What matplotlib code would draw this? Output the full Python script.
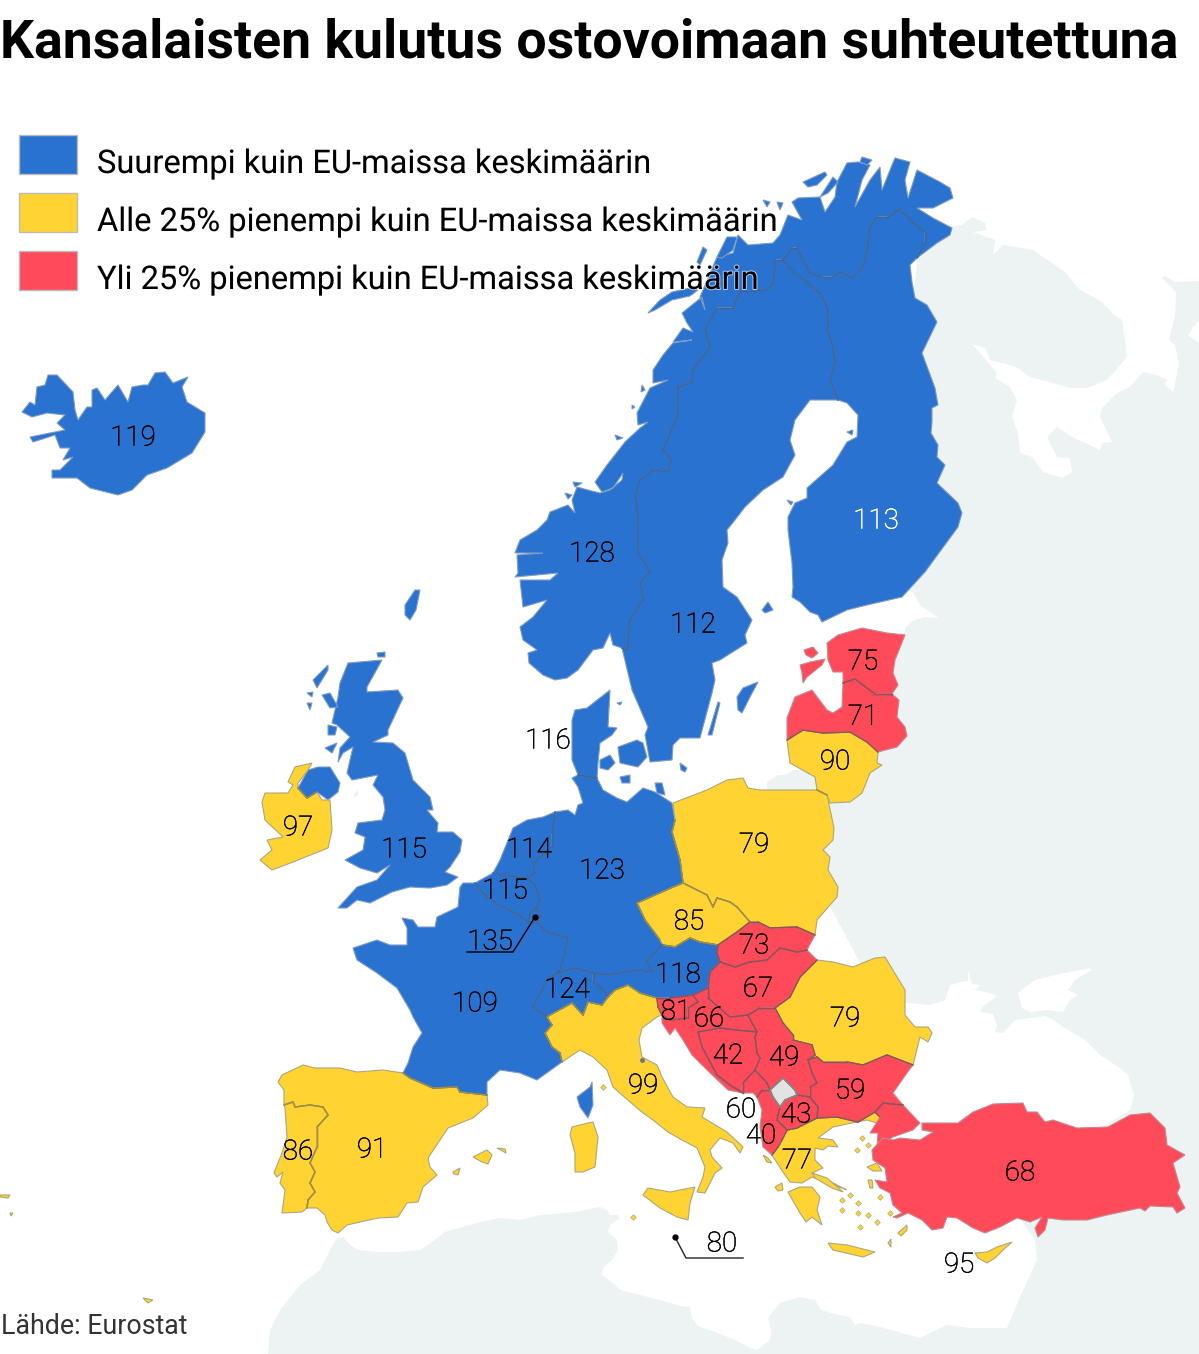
import matplotlib
matplotlib.use('Agg')
import matplotlib.pyplot as plt
import matplotlib.patheffects as pe
from collections import Counter

plt.rcParams['font.family'] = ['Roboto', 'DejaVu Sans']

BLUE = '#2a72cf'
YELLOW = '#ffd332'
RED = '#ff4a5a'
GREY = '#e2e3e4'
LAND = '#edf2f3'
COAST = {BLUE: '#7f9cc4', YELLOW: '#aea67c', RED: '#c48a92', GREY: '#aaaaaa'}
BORDER = {BLUE: '#3f6699', YELLOW: '#a08f45', RED: '#93505b', GREY: '#888888'}

TITLE = 'Kansalaisten kulutus ostovoimaan suhteutettuna'
SOURCE = 'Lähde: Eurostat'
legend_labels = ['Suurempi kuin EU-maissa keskimäärin',
                 'Alle 25% pienempi kuin EU-maissa keskimäärin',
                 'Yli 25% pienempi kuin EU-maissa keskimäärin']
legend_colors = [BLUE, YELLOW, RED]

# value labels
label_values = [119, 128, 113, 112, 116, 75, 71, 90, 79, 97, 115, 114, 123, 115, 85, 73, 135,
                118, 124, 67, 81, 66, 79, 109, 42, 49, 59, 99, 60, 43, 40, 77, 68, 91, 86, 80, 95]
label_x = [133, 592, 876, 693, 548, 863, 863, 835, 754, 298, 404, 529, 602, 505, 689, 754, 490,
           678, 567, 758, 676, 709, 845, 475, 728, 784, 850, 643, 741, 796, 761, 797, 1020, 372, 298, 722, 959]
label_y = [436, 552, 519, 623, 739, 660, 715, 760, 843, 826, 848, 848, 869, 889, 920, 944, 940,
           973, 988, 987, 1010, 1017, 1017, 1002, 1054, 1056, 1089, 1084, 1108, 1113, 1134, 1159, 1171, 1148, 1150, 1242, 1263]
label_colors = ['white' if v == 113 else 'black' for v in label_values]

nor_swe = [(622, 648), (627, 650), (630, 620), (643, 600), (640, 582), (650, 572), (638, 553), (637, 507),
           (635, 497), (640, 480), (653, 470), (668, 472), (671, 460), (663, 450), (677, 417), (678, 387),
           (692, 382), (693, 370), (710, 347), (705, 330), (717, 308), (733, 308), (740, 292), (767, 290),
           (773, 283), (775, 260), (783, 260)]
swe_fin = [(783, 260), (793, 272), (807, 282), (820, 293), (828, 310), (827, 330), (832, 343), (835, 362),
           (830, 380), (838, 400)]
nor_fin = [(783, 260), (792, 248), (797, 248), (810, 273), (822, 277), (833, 277), (840, 272), (852, 278), (863, 267),
           (867, 250), (870, 227), (877, 217), (888, 217), (900, 209), (913, 223), (925, 232), (925, 243), (917, 258)]
norway = nor_swe + nor_fin[1:] + [(937, 243), (950, 235), (952, 228), (933, 218), (917, 208), (933, 208), (953, 198),
                    (950, 188), (940, 182), (917, 170), (908, 198), (905, 180), (910, 162), (895, 158), (890, 170),
                    (882, 190), (880, 167), (870, 180), (855, 207), (862, 180), (870, 165), (858, 162), (847, 163),
                    (837, 182), (835, 197), (825, 212), (820, 197), (798, 198), (792, 202), (802, 220), (788, 215),
                    (780, 235), (773, 243), (748, 245), (738, 235), (733, 253), (717, 257), (700, 297), (705, 310),
                    (702, 297), (682, 313), (687, 323), (693, 332), (683, 328), (673, 342), (692, 340), (673, 343),
                    (663, 355), (653, 370), (653, 383), (668, 380), (650, 388), (637, 413), (638, 425), (648, 422),
                    (640, 428), (625, 442), (607, 465), (595, 482), (602, 492), (613, 488), (623, 473), (622, 480),
                    (610, 490), (600, 493), (588, 490), (577, 487), (572, 500), (575, 513), (568, 505), (550, 512),
                    (547, 520), (537, 530), (520, 540), (515, 553), (543, 553), (517, 555), (518, 573), (515, 577),
                    (558, 573), (550, 580), (520, 580), (523, 607), (547, 600), (533, 617), (520, 627), (523, 640),
                    (537, 650), (528, 653), (529, 663), (543, 675), (555, 680), (567, 678), (578, 670), (593, 650),
                    (603, 648), (610, 633), (613, 645)]
sweden = nor_swe + swe_fin[1:] + [(810, 400), (795, 420), (790, 440), (795, 455), (783, 477), (763, 490), (745, 507),
                                  (735, 520), (727, 530), (728, 543), (722, 560), (723, 587), (737, 597), (752, 620),
                                  (745, 635), (747, 643), (720, 660), (712, 663), (715, 680), (712, 693), (700, 738),
                                  (680, 738), (673, 745), (672, 760), (650, 762), (645, 735), (648, 727), (632, 690)]
finland = swe_fin[::-1] + nor_fin[1:] + [(910, 265), (912, 282), (915, 298), (927, 305),
                           (937, 322), (922, 353), (935, 388), (938, 405), (932, 408), (932, 422), (931, 433),
                           (938, 445), (937, 457), (945, 465), (937, 483), (958, 503), (962, 513), (958, 527),
                           (925, 572), (902, 597), (867, 605), (847, 610), (822, 622), (818, 615), (810, 612),
                           (800, 602), (792, 597), (793, 587), (792, 563), (788, 530), (788, 517), (795, 503),
                           (807, 498), (807, 488), (833, 465), (847, 442), (857, 437), (858, 415), (847, 403)]
norway_isles = [[(648, 313), (660, 300), (672, 292), (690, 288), (698, 290), (690, 296), (672, 300), (655, 310)],
                [(717, 257), (727, 237), (737, 237), (733, 250), (722, 258)],
                [(697, 262), (703, 247), (707, 250), (700, 265)],
                [(803, 182), (825, 172), (827, 175), (817, 185), (808, 187)],
                [(820, 197), (833, 177), (838, 182), (828, 193)],
                [(862, 157), (872, 160), (867, 165), (860, 162)],
                [(763, 200), (770, 202), (767, 207)],
                [(777, 202), (783, 203), (780, 210)],
                [(642, 385), (645, 390), (641, 392)],
                [(632, 405), (635, 407), (632, 409)],
                [(615, 435), (623, 438), (617, 440)],
                [(573, 482), (582, 483), (575, 487)],
                [(565, 493), (572, 495), (568, 499)]]
gotland = [(737, 697), (743, 688), (758, 682), (750, 697), (742, 713), (738, 710)]
oland = [(708, 735), (718, 702), (720, 703), (712, 735)]
aland = [(762, 610), (768, 602), (773, 610), (765, 613)]
kvarken = [(847, 432), (853, 430), (852, 435)]
bothnia_isle = [(787, 500), (793, 502), (791, 505)]

iceland = [(22, 412), (30, 402), (35, 405), (37, 387), (45, 385), (48, 375), (57, 375), (73, 392), (75, 410), (78, 420),
           (87, 407), (92, 407), (92, 390), (97, 388), (105, 400), (118, 385), (128, 402), (132, 387), (143, 385),
           (148, 385), (155, 373), (165, 372), (173, 383), (188, 377), (182, 387), (187, 402), (205, 413), (205, 432),
           (192, 453), (167, 468), (147, 475), (132, 490), (118, 495), (90, 488), (77, 478), (52, 478), (52, 470),
           (60, 470), (73, 457), (63, 460), (70, 448), (60, 448), (55, 435), (33, 442), (30, 437), (65, 430), (57, 423),
           (65, 415), (47, 413), (32, 417)]

britain = [(348, 663), (382, 660), (367, 687), (367, 692), (398, 690), (403, 698), (388, 730), (388, 735), (373, 742),
           (393, 743), (405, 753), (413, 780), (430, 797), (433, 810), (427, 810), (438, 823), (437, 832), (453, 832),
           (462, 840), (460, 852), (450, 867), (445, 872), (458, 877), (447, 885), (430, 888), (410, 887), (392, 892),
           (370, 903), (357, 900), (347, 908), (338, 908), (357, 887), (377, 880), (390, 865), (377, 873), (360, 868),
           (345, 860), (363, 850), (365, 837), (355, 833), (358, 823), (382, 820), (385, 810), (383, 797), (373, 785),
           (378, 775), (352, 780), (347, 773), (353, 747), (343, 753), (338, 762), (340, 748), (350, 737), (337, 725),
           (332, 723), (338, 697), (340, 683)]
n_ireland = [(298, 788), (308, 770), (318, 767), (330, 767), (340, 783), (338, 792), (328, 800), (317, 792), (307, 798)]
ireland = [(312, 763), (308, 770), (298, 783), (298, 788), (307, 798), (317, 792), (322, 800), (330, 800), (332, 830),
           (328, 848), (293, 862), (272, 870), (260, 860), (272, 850), (267, 840), (283, 837), (265, 820), (262, 802),
           (265, 793), (288, 793), (293, 785), (288, 782), (295, 767)]
uk_isles = [[(313, 680), (328, 665), (328, 670), (317, 688)],
            [(322, 695), (330, 693), (338, 707), (330, 708)],
            [(307, 693), (313, 692), (312, 697)],
            [(307, 703), (312, 703), (310, 710)],
            [(328, 725), (337, 727), (335, 735), (328, 735)],
            [(325, 748), (337, 743), (332, 753)],
            [(377, 653), (385, 652), (385, 657), (378, 657)],
            [(405, 605), (415, 590), (420, 590), (416, 610), (410, 620), (405, 615)]]

france = [(463, 883), (475, 883), (483, 893), (495, 903), (513, 912), (528, 922), (537, 923), (547, 932), (568, 938),
          (560, 970), (558, 973), (548, 978), (533, 1007), (547, 1017), (552, 1025), (545, 1033), (552, 1047),
          (560, 1053), (562, 1062), (537, 1080), (520, 1073), (500, 1070), (487, 1082), (487, 1095), (460, 1092),
          (457, 1087), (433, 1088), (410, 1078), (403, 1073), (408, 1063), (413, 1047), (422, 1033), (413, 1017),
          (410, 1010), (397, 988), (377, 973), (357, 960), (353, 948), (377, 940), (390, 945), (407, 945), (407, 928),
          (402, 918), (413, 920), (418, 927), (435, 927), (437, 917), (458, 907), (460, 887)]
corsica = [(592, 1082), (593, 1105), (588, 1118), (580, 1107), (577, 1097), (590, 1087)]
spain = [(403, 1073), (410, 1078), (433, 1088), (457, 1087), (460, 1092), (487, 1095), (488, 1105), (473, 1118),
         (448, 1128), (428, 1158), (430, 1167), (437, 1175), (423, 1187), (418, 1202), (407, 1203), (398, 1217),
         (378, 1218), (360, 1222), (347, 1225), (338, 1233), (332, 1230), (327, 1222), (325, 1215), (317, 1208),
         (307, 1208), (308, 1200), (315, 1192), (310, 1183), (315, 1172), (310, 1163), (317, 1147), (317, 1127),
         (328, 1115), (323, 1107), (310, 1105), (295, 1107), (293, 1102), (284, 1105), (284, 1090), (278, 1082),
         (282, 1075), (303, 1065), (315, 1068), (340, 1068), (357, 1072), (383, 1070)]
portugal = [(293, 1102), (295, 1107), (310, 1105), (323, 1107), (328, 1115), (317, 1127), (317, 1147), (310, 1163),
            (315, 1172), (310, 1183), (315, 1192), (308, 1200), (307, 1208), (302, 1212), (282, 1213), (285, 1190),
            (280, 1183), (283, 1172), (277, 1177), (274, 1173), (282, 1153), (287, 1137), (285, 1108), (284, 1105)]
spain_isles = [[(473, 1157), (487, 1150), (492, 1155), (488, 1164), (482, 1162)],
               [(497, 1148), (505, 1149), (506, 1153)],
               [(453, 1172), (460, 1168), (458, 1175), (454, 1174)],
               [(0, 1195), (10, 1195), (8, 1198), (0, 1197)],
               [(10, 1213), (13, 1213), (11, 1216)],
               [(143, 1298), (153, 1300), (148, 1303)]]
sardinia = [(572, 1127), (588, 1123), (593, 1122), (598, 1137), (595, 1167), (583, 1172), (575, 1172), (575, 1153), (570, 1135)]
sicily = [(643, 1195), (648, 1188), (670, 1192), (695, 1187), (690, 1203), (688, 1220), (677, 1217), (660, 1208)]
italy = [(547, 1017), (552, 1025), (545, 1033), (552, 1047), (560, 1053), (562, 1062), (580, 1050), (593, 1057),
         (607, 1070), (613, 1087), (622, 1095), (643, 1113), (653, 1120), (668, 1132), (682, 1140), (697, 1148),
         (705, 1167), (703, 1177), (697, 1192), (705, 1193), (715, 1173), (722, 1168), (712, 1157), (710, 1150),
         (720, 1138), (733, 1143), (740, 1153), (743, 1147), (727, 1132), (702, 1117), (705, 1108), (687, 1107),
         (673, 1097), (662, 1077), (657, 1065), (642, 1057), (639, 1040), (642, 1028), (657, 1017), (662, 1015),
         (658, 1007), (657, 998), (640, 993), (628, 985), (615, 990), (608, 997), (602, 1005), (588, 1002),
         (583, 1015), (572, 1003), (550, 1015)]
austria = [(593, 973), (608, 975), (637, 970), (652, 972), (647, 960), (663, 945), (675, 947), (690, 938), (700, 942),
           (718, 945), (717, 953), (720, 962), (710, 972), (708, 988), (693, 995), (670, 998), (657, 998), (640, 993),
           (628, 985), (615, 990), (608, 997), (602, 988), (593, 982)]
switzerland = [(533, 1007), (548, 978), (558, 973), (575, 968), (593, 973), (593, 982), (602, 988), (608, 997),
               (602, 1005), (588, 1002), (583, 1015), (572, 1003), (550, 1015), (547, 1017)]
germany = [(578, 775), (597, 778), (603, 790), (617, 798), (627, 802), (643, 788), (655, 792), (672, 803), (675, 820),
           (672, 832), (680, 860), (683, 883), (673, 887), (637, 903), (645, 920), (660, 940), (665, 943), (663, 945),
           (647, 960), (652, 972), (637, 970), (608, 975), (593, 973), (575, 968), (558, 973), (560, 970), (568, 938),
           (547, 932), (537, 923), (540, 917), (537, 907), (540, 900), (535, 885), (527, 878), (535, 873), (533, 863), (552, 847), (552, 833),
           (555, 812), (568, 810), (575, 815), (578, 805), (583, 803), (578, 787), (572, 778)]
rugen = [(655, 783), (662, 783), (665, 795), (657, 793)]
netherlands = [(555, 812), (552, 833), (552, 847), (533, 863), (535, 873), (527, 878), (517, 877), (493, 873), (500, 860),
               (513, 828), (527, 820), (543, 817)]
belgium = [(475, 883), (493, 873), (517, 877), (527, 878), (535, 885), (540, 900), (537, 907), (530, 913), (528, 922),
           (513, 912), (495, 903), (483, 893)]
luxembourg = [(530, 913), (537, 907), (540, 917), (537, 923), (528, 922)]
denmark = [(572, 720), (575, 710), (587, 708), (610, 690), (608, 727), (617, 728), (612, 735), (600, 743), (598, 763),
           (597, 778), (578, 775), (572, 760), (572, 737)]
denmark_isles = [[(618, 747), (637, 740), (643, 743), (647, 757), (638, 767), (620, 763)],
                 [(600, 760), (610, 755), (615, 763), (608, 770), (600, 768)],
                 [(620, 777), (630, 775), (630, 783), (622, 783)],
                 [(680, 763), (687, 768), (685, 772), (681, 770)],
                 [(617, 703), (622, 702), (620, 705)]]
estonia = [(827, 643), (838, 635), (862, 628), (887, 633), (905, 635), (895, 660), (893, 673), (898, 685), (892, 694),
           (875, 694), (855, 679), (843, 683), (843, 672), (833, 672), (828, 660)]
estonia_isles = [[(800, 665), (810, 662), (825, 659), (822, 665), (807, 677), (803, 683), (802, 673)],
                 [(804, 650), (813, 647), (818, 653), (812, 658), (806, 655)]]
latvia = [(787, 740), (787, 718), (795, 697), (812, 690), (827, 710), (833, 713), (842, 707), (843, 683), (855, 679),
          (875, 694), (892, 694), (899, 700), (897, 717), (905, 727), (907, 736), (897, 747), (878, 752), (867, 742),
          (850, 732), (823, 733), (803, 730)]
lithuania = [(787, 740), (803, 730), (823, 733), (850, 732), (867, 742), (878, 752), (877, 763), (882, 765), (870, 773),
             (862, 793), (850, 802), (830, 803), (827, 795), (817, 790), (815, 777), (790, 763)]
poland = [(673, 803), (707, 790), (727, 780), (743, 778), (748, 788), (760, 790), (817, 790), (827, 795), (834, 828),
          (833, 840), (823, 850), (830, 857), (828, 870), (838, 887), (837, 897), (817, 920), (815, 935), (797, 927),
          (770, 928), (758, 922), (750, 922), (737, 907), (730, 902), (717, 898), (713, 907), (707, 895), (683, 883),
          (680, 860), (672, 832), (675, 820)]
czechia = [(637, 903), (673, 887), (683, 883), (707, 895), (713, 907), (717, 898), (730, 902), (737, 907), (750, 922),
           (737, 932), (718, 945), (700, 942), (690, 938), (675, 947), (663, 945), (660, 940), (645, 920)]
slovakia = [(718, 945), (737, 932), (750, 922), (758, 922), (770, 928), (797, 927), (815, 935), (807, 950), (797, 952),
            (780, 948), (767, 960), (750, 962), (735, 967), (720, 962), (717, 953)]
hungary = [(720, 962), (735, 967), (750, 962), (767, 960), (780, 948), (797, 952), (807, 950), (817, 960), (800, 977),
           (790, 997), (775, 1008), (760, 1008), (748, 1015), (730, 1017), (708, 998), (708, 988), (710, 972)]
slovenia = [(657, 998), (670, 998), (693, 995), (698, 1002), (688, 1008), (688, 1018), (670, 1020), (662, 1015), (658, 1007)]
croatia = [(693, 995), (708, 988), (708, 998), (730, 1017), (748, 1015), (752, 1023), (757, 1032), (737, 1030), (720, 1028),
           (698, 1032), (702, 1047), (717, 1075), (730, 1085), (743, 1093), (728, 1090), (707, 1070), (692, 1055),
           (683, 1040), (675, 1028), (670, 1035), (662, 1023), (662, 1015), (670, 1020), (688, 1018), (688, 1008), (698, 1002)]
bosnia = [(698, 1032), (720, 1028), (737, 1030), (757, 1032), (755, 1037), (757, 1053), (760, 1058), (755, 1070),
          (743, 1083), (743, 1093), (730, 1085), (717, 1075), (702, 1047)]
serbia = [(748, 1015), (760, 1008), (775, 1008), (783, 1023), (793, 1035), (793, 1040), (812, 1045), (815, 1055),
          (808, 1060), (812, 1073), (817, 1083), (810, 1087), (810, 1097), (797, 1095), (795, 1090), (783, 1078),
          (770, 1090), (767, 1083), (755, 1070), (760, 1058), (757, 1053), (755, 1037), (757, 1032), (752, 1023)]
kosovo = [(770, 1090), (783, 1078), (795, 1090), (797, 1095), (785, 1100), (780, 1107), (773, 1097)]
montenegro = [(755, 1070), (767, 1083), (770, 1090), (762, 1090), (757, 1097), (753, 1093), (743, 1093), (743, 1083)]
albania = [(757, 1097), (762, 1090), (770, 1090), (773, 1097), (780, 1107), (777, 1120), (787, 1130), (782, 1140),
           (778, 1147), (772, 1155), (763, 1147), (760, 1127), (762, 1110)]
macedonia = [(780, 1107), (785, 1100), (797, 1095), (810, 1097), (818, 1107), (817, 1118), (797, 1128), (787, 1130), (777, 1120)]
bulgaria = [(808, 1060), (817, 1057), (823, 1062), (847, 1062), (863, 1065), (887, 1055), (913, 1065), (907, 1073),
            (893, 1093), (903, 1105), (883, 1103), (875, 1112), (858, 1122), (837, 1117), (817, 1118), (818, 1107),
            (810, 1097), (810, 1087), (817, 1083), (812, 1073)]
romania = [(775, 1008), (790, 997), (800, 977), (817, 960), (833, 962), (853, 967), (875, 958), (885, 957), (905, 990),
           (905, 1015), (915, 1027), (928, 1027), (932, 1033), (928, 1042), (920, 1037), (918, 1045), (913, 1065),
           (887, 1055), (863, 1065), (847, 1062), (823, 1062), (817, 1057), (808, 1060), (815, 1055), (812, 1045), (793, 1040),
           (793, 1035), (783, 1023)]
greece = [(772, 1155), (778, 1147), (782, 1140), (787, 1130), (797, 1128), (817, 1118), (837, 1117), (858, 1122),
          (875, 1112), (880, 1117), (877, 1123), (867, 1120), (847, 1124), (833, 1127), (818, 1138), (833, 1140),
          (838, 1147), (828, 1146), (823, 1150), (815, 1148), (815, 1160), (823, 1168), (812, 1173), (827, 1180), (847, 1190), (833, 1185),
          (812, 1177), (802, 1183), (790, 1182), (783, 1172)]
peloponnese = [(788, 1192), (800, 1187), (812, 1187), (820, 1197), (817, 1210), (822, 1225), (812, 1217), (806, 1222),
               (800, 1213)]
crete = [(828, 1243), (847, 1245), (875, 1252), (863, 1257), (833, 1250)]
greek_isles = [[(812, 1173), (827, 1178), (843, 1192), (832, 1188), (815, 1178)],
               [(867, 1167), (877, 1163), (882, 1171), (873, 1171)],
               [(868, 1180), (872, 1180), (873, 1188), (870, 1188)],
               [(898, 1233), (907, 1225), (907, 1230), (901, 1236)],
               [(888, 1243), (891, 1239), (891, 1247)],
               [(775, 1187), (782, 1183), (783, 1190), (778, 1191)],
               [(763, 1155), (768, 1158), (772, 1163), (767, 1162)]]
turkey_thrace = [(875, 1112), (883, 1103), (903, 1105), (920, 1123), (913, 1130), (893, 1137), (877, 1147), (878, 1133),
                 (870, 1133), (880, 1117)]
turkey = [(922, 1123), (950, 1123), (958, 1123), (973, 1112), (993, 1104), (1023, 1103), (1027, 1112), (1037, 1112),
          (1045, 1122), (1053, 1120), (1077, 1128), (1108, 1127), (1130, 1115), (1150, 1113), (1165, 1128), (1167, 1145),
          (1185, 1155), (1173, 1163), (1180, 1187), (1177, 1193), (1185, 1208), (1177, 1213), (1173, 1207), (1150, 1206),
          (1145, 1211), (1140, 1208), (1107, 1215), (1087, 1220), (1063, 1220), (1048, 1218), (1045, 1230), (1038, 1237),
          (1035, 1228), (1042, 1217), (1030, 1222), (1017, 1218), (1000, 1227), (985, 1233), (973, 1228), (957, 1218),
          (947, 1217), (943, 1228), (932, 1230), (922, 1220), (908, 1213), (897, 1218), (893, 1217), (902, 1213),
          (893, 1205), (890, 1193), (880, 1188), (875, 1180), (887, 1182), (885, 1168), (873, 1160), (872, 1150),
          (883, 1138), (893, 1140), (900, 1138), (920, 1140), (933, 1132), (922, 1130)]
cyprus = [(975, 1253), (987, 1252), (997, 1247), (1012, 1242), (1003, 1250), (995, 1258), (987, 1263), (978, 1258)]

islet_x = [842, 850, 858, 842, 858, 868, 860, 877, 890, 862, 868, 857, 633, 603, 880]
islet_y = [1200, 1195, 1203, 1210, 1213, 1215, 1227, 1222, 1213, 1138, 1145, 1150, 1217, 1087, 1197]

# land outside the data
east_land = [(952, 226), (962, 225), (972, 217), (985, 223), (987, 230), (973, 232), (995, 240), (993, 255), (1003, 245),
             (1022, 248), (1033, 250), (1065, 272), (1080, 290), (1102, 302), (1112, 313), (1122, 320), (1127, 357),
             (1107, 380), (1087, 388), (1070, 388), (1050, 382), (1030, 377), (1018, 368), (1010, 365), (990, 360),
             (985, 348), (972, 344), (980, 353), (997, 373), (995, 378), (1010, 387), (1017, 400), (1012, 417), (1018, 433),
             (1020, 453), (1032, 457), (1043, 472), (1062, 478), (1072, 472), (1070, 458), (1057, 457), (1047, 437),
             (1057, 427), (1072, 437), (1083, 442), (1100, 450), (1102, 443), (1112, 442), (1100, 417), (1102, 408),
             (1117, 393), (1130, 387), (1143, 372), (1157, 375), (1167, 380), (1165, 385), (1173, 392), (1179, 365),
             (1175, 345), (1169, 340), (1175, 315), (1176, 292), (1162, 278), (1165, 276), (1175, 282), (1199, 281),
             (1199, 1354), (920, 1354), (920, 1338), (947, 1325), (970, 1328), (1007, 1328), (1020, 1297), (1037, 1260),
             (1035, 1240), (1000, 1190), (1130, 1110), (1134, 1095),
             (1128, 1075), (1120, 1068), (1100, 1055), (1085, 1040), (1068, 1030), (1050, 1018), (1045, 1016), (1030, 1018),
             (1015, 1020), (1003, 1033), (995, 1032), (997, 1025), (993, 1014), (980, 1012), (983, 1007), (997, 996),
             (990, 993), (975, 990), (980, 985), (972, 984), (968, 970), (968, 981), (960, 982), (950, 985), (945, 1000),
             (930, 1005), (880, 1000), (800, 850), (860, 720), (890, 640), (905, 632), (905, 628), (912, 621), (925, 617),
             (939, 618), (930, 612), (920, 605), (913, 592), (905, 590), (900, 400), (920, 240)]
azov = [(1018, 993), (1035, 980), (1055, 975), (1090, 968), (1092, 970), (1075, 980), (1068, 990), (1078, 995), (1070, 1000),
        (1063, 1012), (1048, 1010), (1030, 1012), (1022, 1008)]
barents_bay = [(1199, 320), (1188, 335), (1199, 343)]
kaliningrad = [(767, 782), (778, 775), (786, 775), (793, 770), (816, 770), (820, 795), (767, 795)]
africa = [(268, 1354), (270, 1330), (280, 1310), (300, 1285), (320, 1270), (330, 1250), (337, 1238), (343, 1237), (350, 1245),
          (358, 1250), (380, 1252), (400, 1252), (420, 1250), (435, 1240), (445, 1232), (480, 1222), (500, 1218), (520, 1220),
          (540, 1215), (555, 1214), (575, 1212), (595, 1208), (600, 1207), (607, 1210), (610, 1215), (618, 1215), (620, 1218),
          (610, 1225), (608, 1232), (617, 1240), (618, 1250), (612, 1260), (603, 1268), (602, 1275), (615, 1285), (620, 1290),
          (640, 1295), (660, 1300), (680, 1306), (690, 1307), (692, 1318), (698, 1326), (715, 1332), (735, 1340), (750, 1348),
          (757, 1350), (770, 1340), (771, 1330), (768, 1318), (780, 1303), (800, 1297), (815, 1300), (821, 1310), (835, 1314),
          (850, 1317), (855, 1325), (860, 1323), (880, 1327), (920, 1338), (920, 1354)]
isle_of_man = [(354, 794), (358, 790), (358, 795), (354, 798)]

blue_shapes = [norway, sweden, finland, gotland, oland, aland, kvarken, bothnia_isle, iceland, britain, n_ireland, france,
               corsica, austria, switzerland, germany, rugen, netherlands, belgium, luxembourg, denmark] + norway_isles + uk_isles + denmark_isles
yellow_shapes = [ireland, spain, portugal, sardinia, sicily, italy, lithuania, poland, czechia, romania, greece, peloponnese,
                 crete, cyprus] + spain_isles + greek_isles
red_shapes = [estonia, latvia, slovakia, hungary, slovenia, croatia, bosnia, serbia, montenegro, albania, macedonia, bulgaria,
              turkey_thrace, turkey] + estonia_isles
grey_shapes = [kosovo]


def segments(shape):
    for a, b in zip(shape, shape[1:] + shape[:1]):
        yield tuple(sorted((a, b)))


def draw_shapes(ax, shapes, color, counts):
    # light outline along the coast, darker where two countries meet
    for shape in shapes:
        xs = [p[0] for p in shape]
        ys = [p[1] for p in shape]
        ax.fill(xs, ys, facecolor=color, edgecolor=COAST[color], linewidth=0.8, zorder=3)
    for shape in shapes:
        for seg in segments(shape):
            if counts[seg] > 1:
                ax.plot([seg[0][0], seg[1][0]], [seg[0][1], seg[1][1]], color=BORDER[color], lw=1,
                        solid_capstyle='round', zorder=4)


def main():
    fig = plt.figure(figsize=(11.99, 13.54), dpi=100)
    ax = fig.add_axes([0, 0, 1, 1])
    ax.set_xlim(0, 1199)
    ax.set_ylim(1354, 0)
    ax.axis('off')

    for shape in [east_land, africa, kaliningrad, isle_of_man]:
        ax.fill([p[0] for p in shape], [p[1] for p in shape], facecolor=LAND, edgecolor='none', zorder=1)
    for shape in [azov, barents_bay]:
        ax.fill([p[0] for p in shape], [p[1] for p in shape], facecolor='white', edgecolor='none', zorder=2)

    counts = Counter()
    for shape in blue_shapes + yellow_shapes + red_shapes + grey_shapes:
        counts.update(segments(shape))

    draw_shapes(ax, blue_shapes, BLUE, counts)
    draw_shapes(ax, yellow_shapes, YELLOW, counts)
    draw_shapes(ax, red_shapes, RED, counts)
    draw_shapes(ax, grey_shapes, GREY, counts)
    ax.scatter(islet_x, islet_y, s=8, marker='D', color=YELLOW, edgecolors=COAST[YELLOW], linewidths=0.5, zorder=3)
    ax.plot([642], [1060], 'o', color='#667788', ms=2.5, zorder=4)

    # leader lines
    ax.plot([467, 513, 535], [952, 952, 917], color='black', lw=1, zorder=5)
    ax.plot([535], [917], 'o', color='black', ms=3.5, zorder=5)
    ax.plot([675, 686, 743], [1237, 1258, 1258], color='#222222', lw=1, zorder=5)
    ax.plot([675], [1237], 'o', color='black', ms=3.5, zorder=5)

    for val, x, y, col in zip(label_values, label_x, label_y, label_colors):
        t = ax.text(x, y + 2, str(val), color=col, fontsize=20, fontweight='light', ha='center', va='center', zorder=6)
        t.set_path_effects([pe.withStroke(linewidth=0.35, foreground=col)])

    for i, (lab, col) in enumerate(zip(legend_labels, legend_colors)):
        top = 135 + i * 58
        ax.fill([19, 77, 77, 19], [top, top, top + 39, top + 39], facecolor=col, edgecolor='#bbbbbb', linewidth=1, zorder=7)
        t = ax.text(97, top + 29, lab, color='black', fontsize=23.5, ha='left', va='center', zorder=7)
        t.set_path_effects([pe.withStroke(linewidth=1.5, foreground='white', alpha=0.6)])

    ax.text(0, 43, TITLE, color='black', fontsize=38.6, fontweight='bold', ha='left', va='center', zorder=8)
    ax.text(1, 1327, SOURCE, color='#333333', fontsize=19.3, ha='left', va='center', zorder=8)

    fig.savefig('out.png', dpi=100)


if __name__ == '__main__':
    main()
